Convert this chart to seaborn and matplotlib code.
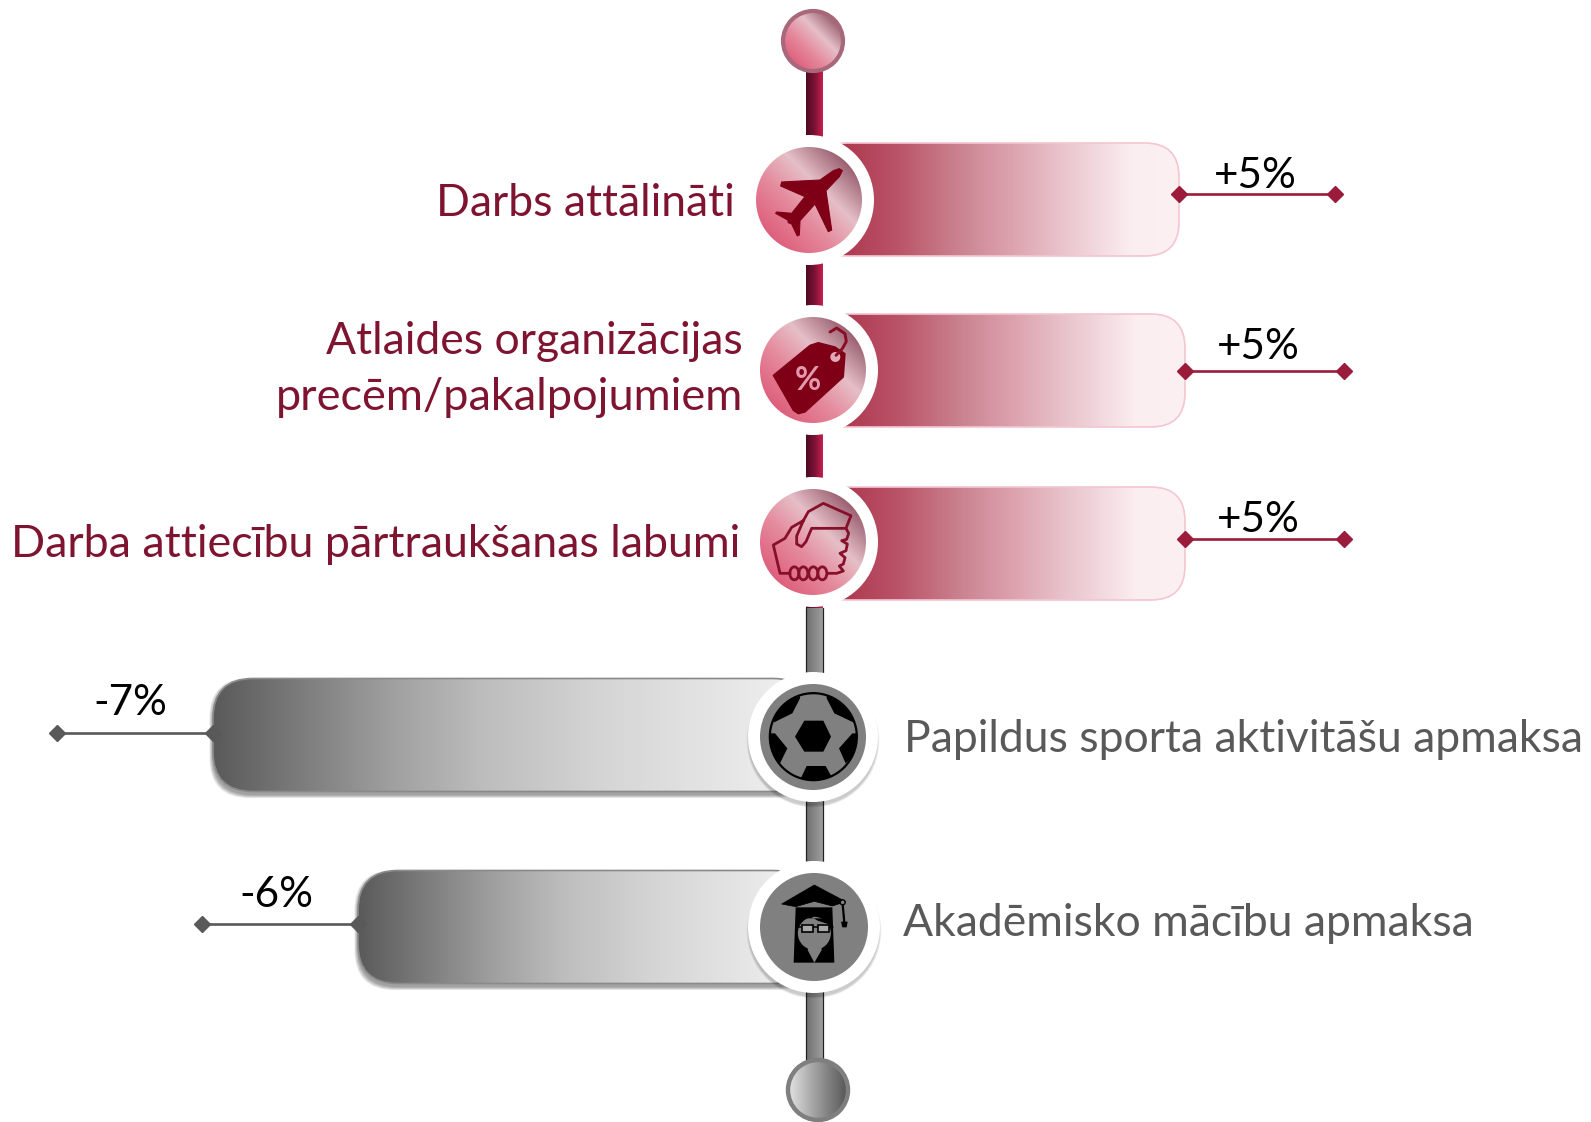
import numpy as np
import pandas as pd
import seaborn as sns
import matplotlib
matplotlib.use("Agg")
import matplotlib.pyplot as plt
from matplotlib.colors import LinearSegmentedColormap as LSC
from matplotlib.patches import FancyBboxPatch, Circle, Polygon, Ellipse, Rectangle
from matplotlib.lines import Line2D

# ---- data ----
categories = ["Darbs attālināti", "Atlaides organizācijas\nprecēm/pakalpojumiem",
              "Darba attiecību pārtraukšanas labumi",
              "Papildus sporta aktivitāšu apmaksa", "Akadēmisko mācību apmaksa"]
percent_change = [5, 5, 5, -7, -6]
percent_labels = ["+5%", "+5%", "+5%", "-7%", "-6%"]
bar_reach = [366, 372, 372, -600, -455]       # drawn length of each gradient bar
whisker_reach = [522, 531, 531, -756, -611]   # drawn end of each whisker

# ---- layout ----
W, H = 1591, 1122
SPINE = 813
row_y = [199.5, 370.5, 543.5, 735, 927]
whisk_y = [194, 371, 538.5, 733, 924]
BAR_H = 113
RED, GREY = "#7f1431", "#595959"
FS = 32
PCT_FS = 30.4

sns.set_theme(style="white")
plt.rcParams["font.family"] = ["Lato", "DejaVu Sans"]
fig = plt.figure(figsize=(W / 100, H / 100), dpi=100)
ax = fig.add_axes([0, 0, 1, 1])

df = pd.DataFrame({"reach": bar_reach, "row": row_y})
sns.barplot(data=df, x="reach", y="row", orient="h", native_scale=True,
            width=BAR_H / 171, color="white", ax=ax, legend=False)
for p in ax.patches:
    p.set_visible(False)
bars = list(ax.patches)

def setlims():
    ax.set_xlim(-SPINE, W - SPINE)
    ax.set_ylim(H, 0)
    ax.set_axis_off()
setlims()

X = lambda px: px - SPINE
def zp(pts, ox, oy):
    return [(X(ox + a / 3), oy + b / 3) for a, b in pts]

red_bar = LSC.from_list("rb", [(0, "#a82c45"), (.08, "#ae3850"), (.23, "#ba5468"), (.41, "#cc8693"), (.52, "#da9eaa"),
                               (.68, "#e9c4cc"), (.87, "#fbeef1"), (1, "#fbf0f3")])
grey_bar = LSC.from_list("gb", [(0, "#5a5a5a"), (.3, "#a0a0a0"), (.45, "#bdbdbd"), (.65, "#d5d5d5"), (1, "#f2f2f2")])
red_spine = LSC.from_list("rs", ["#4d0a22", "#7a1236", "#c8204f"])
grey_spine = LSC.from_list("gs", ["#6e6e6e", "#a0a0a0"])
red_ball = LSC.from_list("rc", [(0, "#de5f7c"), (.35, "#e58a9d"), (.66, "#e5bfc7"), (1, "#9b6172")])
grey_ball = LSC.from_list("gc", ["#e4e4e4", "#999999", "#555555"])

def hgrad(cmap, l, r, t, b, clip, z):
    im = ax.imshow(np.linspace(0, 1, 256)[None, :], cmap=cmap, vmin=0, vmax=1, aspect="auto",
                   extent=(l, r, b, t), origin="upper", zorder=z, interpolation="bilinear")
    im.set_clip_path(clip)

def shadow_box(x, y, w, h, r, z):
    for k in range(6, 0, -1):
        ax.add_patch(FancyBboxPatch((x - k * .6, y + 3 - k * .6), w + k * 1.2, h + k * 1.2,
                     boxstyle=f"round,pad=0,rounding_size={r}", fc="black", ec="none", alpha=.07, zorder=z))

# spine
hgrad(red_spine, X(806), X(823), 60, 608,
      ax.add_patch(Rectangle((X(806), 60), 17, 548, fc="none", ec="none", zorder=1.1)), 1)
hgrad(grey_spine, X(806), X(823), 608, 1070,
      ax.add_patch(Rectangle((X(806), 608), 17, 462, fc="none", ec="none", zorder=1.1)), 1)
for sx in (806, 823):
    ax.add_line(Line2D([X(sx), X(sx)], [608, 1070], color="#222222", lw=.9, zorder=1.2))

# bars, whiskers, labels
for i, p in enumerate(bars):
    x0, w = p.get_x(), p.get_width()
    y0, h = p.get_y(), p.get_height()
    l, r = min(x0, x0 + w), max(x0, x0 + w)
    neg = percent_change[i] < 0
    rad = 40 if neg else 34
    if neg:
        shadow_box(l, y0, r - l, h, rad, 1.5)
    box = FancyBboxPatch((l, y0), r - l, h, boxstyle=f"round,pad=0,rounding_size={rad}",
                         fc="none", ec="#8a8a8a" if neg else "#f4c6cf", lw=1.2, zorder=2.1)
    ax.add_patch(box)
    hgrad(grey_bar if neg else red_bar, l, r, y0, y0 + h, box, 2)
    col = GREY if neg else "#9b1c3a"
    ax.plot([bar_reach[i], whisker_reach[i]], [whisk_y[i]] * 2, color=col, lw=1.9,
            marker="D", ms=8.2, mfc=col, mec=col, zorder=3, solid_capstyle="butt")

lab_x = [1255, 1258, 1258, 130, 276]
lab_y = [188, 359, 532, 715, 907]
for s, a, b in zip(percent_labels, lab_x, lab_y):
    ax.text(X(a), b, s, ha="center", va="baseline", fontsize=PCT_FS, color="black", zorder=6)

# halos and discs
def disc(cx, cy, r, cmap, mode, z=4, edge=None, elw=0):
    n = 200
    yy, xx = np.mgrid[-1:1:n * 1j, -1:1:n * 1j]
    t = .5 + (xx - yy) / (2 * np.sqrt(2)) if mode == "diag" else (xx + 1) / 2
    c = Circle((X(cx), cy), r, fc="none", ec=edge or "none", lw=elw, zorder=z + .1)
    ax.add_patch(c)
    im = ax.imshow(t, cmap=cmap, vmin=0, vmax=1, aspect="auto", origin="upper", interpolation="bilinear",
                   extent=(X(cx) - r, X(cx) + r, cy + r, cy - r), zorder=z)
    im.set_clip_path(c)

cent = [(809, 200, 53), (813, 370, 53), (813, 542, 53), (813, 737, 53), (814, 927, 54)]
for i, (cx, cy, r) in enumerate(cent):
    if i >= 3:
        for k in range(6, 0, -1):
            ax.add_patch(Circle((X(cx), cy + 4), r + 11 + k * .4, fc="black", ec="none", alpha=.035, zorder=3.5))
    ax.add_patch(Circle((X(cx), cy), r + 12, fc="white", ec="none", zorder=3.6))
    if i < 3:
        disc(cx, cy, r, red_ball, "diag")
    else:
        ax.add_patch(Circle((X(cx), cy), r, fc="#808080", ec="none", zorder=4))

disc(813, 41, 30, red_ball, "diag", edge="#a8687c", elw=3)
disc(818, 1090, 30, grey_ball, "h", edge="#7f7f7f", elw=3.2)

ICON = "#7f0016"
# plane
ox, oy = 720, 0
ax.add_patch(Polygon(zp([(367,512),(358,530),(318,572),(335,690),(325,695),(285,612),(240,662),(238,705),(232,708),
                         (215,672),(205,668),(203,660),(167,640),(170,636),(215,640),(255,590),(182,558),(185,546),
                         (300,540),(340,512),(358,506)], ox, oy), fc=ICON, ec=ICON, lw=.8, joinstyle="round", zorder=5))
# tag
ox, oy = 755, 312
ax.add_patch(Polygon(zp([(55,190),(165,100),(190,92),(240,105),(270,125),(265,195),(150,300),(130,305),(115,295)], ox, oy),
                     fc=ICON, ec=ICON, lw=1, joinstyle="round", zorder=5))
hook = zp([(243,130),(262,110),(274,88),(270,65),(245,48),(225,60)], ox, oy)
ax.add_line(Line2D(*zip(*hook), color="#8a0d25", lw=2.1, zorder=5.2, solid_capstyle="round"))
ax.add_patch(Circle(zp([(241,135)], ox, oy)[0], 5, fc="#e3a9b5", ec="none", zorder=5.1))
tx, ty = zp([(158,205)], ox, oy)[0]
ax.text(tx, ty, "%", fontsize=23, fontweight="bold", color="#e39aac", ha="center", va="center", zorder=5.3)
# hand
ox, oy = 740, 290
def stroke(pts, ox, oy, lw=2.0):
    p = zp(pts, ox, oy)
    ax.add_line(Line2D(*zip(*p), color="#86102a", lw=lw, zorder=5, solid_capstyle="round", solid_joinstyle="round"))
stroke([(150,850),(120,850),(100,765),(135,745),(155,712),(190,692),(205,665),(250,640),(333,677),(318,715),(215,715),(198,755),(185,770),(170,762),(170,738),(190,692)], ox, oy)
stroke([(318,715),(326,730),(320,748),(305,752),(322,762),(318,782),(300,790),(315,803),(310,822),(298,828),(310,843),(290,850),(262,850)], ox, oy)
for cxz in (163, 190, 220, 247):
    (ex, ey), = zp([(cxz, 850)], ox, oy)
    ax.add_patch(Ellipse((ex, ey), 9, 13, fc="none", ec="#86102a", lw=2.0, zorder=5))
# football
ox, oy = 755, 680
(bx, by), = zp([(175, 170)], ox, oy)
ball = Circle((bx, by), 43.5, fc="#808080", ec="black", lw=1.6, zorder=4.5)
ax.add_patch(ball)
clip_ball = Circle((bx, by), 43.5, transform=ax.transData)
ball_patches = [[(135,55),(112,100),(55,128),(70,70),(135,40)],
                [(215,55),(238,100),(297,128),(280,70),(215,40)],
                [(60,160),(97,205),(75,250),(40,215),(38,160)],
                [(292,160),(252,205),(272,250),(310,215),(312,160)],
                [(155,258),(212,258),(235,300),(135,300)],
                [(120,170),(148,122),(205,122),(228,170),(205,215),(148,215)]]
for poly in ball_patches:
    pg = Polygon(zp(poly, ox, oy), fc="black", ec="none", zorder=4.8)
    ax.add_patch(pg)
    pg.set_clip_path(clip_ball)
# graduate
ox, oy = 755, 870
ax.add_patch(Polygon(zp([(122,112),(232,112),(238,278),(116,278)], ox, oy), fc="black", ec="none", zorder=4.6))
ax.add_patch(Ellipse(zp([(178,190)], ox, oy)[0], 33, 33, fc="#808080", ec="none", zorder=4.7))
ax.add_patch(Polygon(zp([(128,145),(228,145),(228,165),(188,152),(160,135),(130,165)], ox, oy), fc="black", ec="none", zorder=4.75))
ax.add_patch(Polygon(zp([(160,225),(198,225),(200,240),(178,278),(158,240)], ox, oy), fc="#808080", ec="none", zorder=4.7))
ax.add_patch(Polygon(zp([(80,102),(178,45),(272,95),(232,108),(178,94),(122,110)], ox, oy), fc="black", ec="black", lw=.5, zorder=4.8))
for gx in (141, 190):
    (qx, qy), = zp([(gx, 185)], ox, oy)
    ax.add_patch(Rectangle((qx, qy), 11, -6.5, fc="#a8a8a8", ec="black", lw=1.2, zorder=4.9))
ax.add_line(Line2D(*zip(*zp([(125,172),(235,172)], ox, oy)), color="black", lw=1.1, zorder=4.85))
ax.add_line(Line2D(*zip(*zp([(262,92),(268,158)], ox, oy)), color="black", lw=1.6, zorder=4.9))
ax.add_patch(Circle(zp([(263,97)], ox, oy)[0], 2.5, fc="#808080", ec="black", lw=1, zorder=4.9))
ax.add_patch(Polygon(zp([(258,155),(278,155),(275,172),(262,172)], ox, oy), fc="black", ec="none", zorder=4.9))

# category labels
ax.text(X(735), 216, categories[0], ha="right", va="baseline", fontsize=FS, color=RED)
for s, b, fs in zip(categories[1].split("\n"), (354, 410), (FS, FS + .5)):
    ax.text(X(743), b, s, ha="right", va="baseline", fontsize=fs, color=RED)
ax.text(X(740), 557, categories[2], ha="right", va="baseline", fontsize=FS + .2, color=RED)
ax.text(X(904), 752, categories[3], ha="left", va="baseline", fontsize=FS, color=GREY)
ax.text(X(903), 936, categories[4], ha="left", va="baseline", fontsize=FS, color=GREY)

setlims()
fig.savefig("out.png", dpi=100, facecolor="white")
